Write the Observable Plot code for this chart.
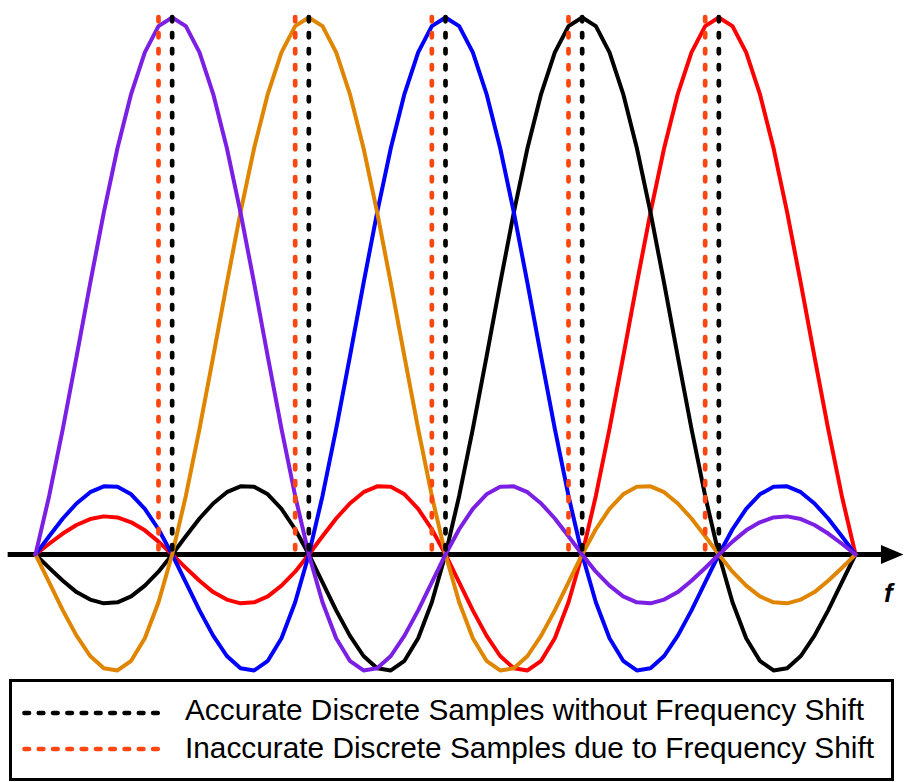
<!DOCTYPE html>
<html>
<head>
<meta charset="utf-8">
<script src="https://cdn.jsdelivr.net/npm/d3@7"></script>
<script src="https://cdn.jsdelivr.net/npm/@observablehq/plot@0.6"></script>
<style>
  html, body { margin: 0; padding: 0; background: #fff; }
  #wrap { position: relative; width: 905px; height: 782px; font-family: "Liberation Sans", Arial, sans-serif; }
  #legend { position: absolute; left: 9px; top: 679px; width: 885px; height: 102px; box-sizing: border-box; border: 3px solid #000; background: #fff; }
  #legend svg { display: block; }
</style>
</head>
<body>
<div id="wrap"><div id="chart"></div><div id="legend"></div></div>
<script>
// normalized frequency grid (subcarrier spacing = 1)
const freq = [0,0.1,0.2,0.3,0.4,0.5,0.6,0.7,0.8,0.9,
  1,1.1,1.2,1.3,1.4,1.5,1.6,1.7,1.8,1.9,
  2,2.1,2.2,2.3,2.4,2.5,2.6,2.7,2.8,2.9,
  3,3.1,3.2,3.3,3.4,3.5,3.6,3.7,3.8,3.9,
  4,4.1,4.2,4.3,4.4,4.5,4.6,4.7,4.8,4.9,
  5,5.1,5.2,5.3,5.4,5.5,5.6,5.7,5.8,5.9,6];

const subcarrier1 = [0,0.109,0.234,0.368,0.505,0.637,0.757,0.858,0.935,0.984,
  1,0.984,0.935,0.858,0.757,0.637,0.505,0.368,0.234,0.109,
  0,-0.089,-0.156,-0.198,-0.216,-0.212,-0.189,-0.151,-0.104,-0.052,
  0,0.047,0.085,0.112,0.126,0.127,0.116,0.095,0.067,0.034,
  0,-0.032,-0.058,-0.078,-0.089,-0.091,-0.084,-0.070,-0.049,-0.025,
  0,0.024,0.045,0.060,0.069,0.071,0.066,0.055,0.039,0.020,0];

const subcarrier2 = [0,-0.052,-0.104,-0.151,-0.189,-0.212,-0.216,-0.198,-0.156,-0.089,
  0,0.109,0.234,0.368,0.505,0.637,0.757,0.858,0.935,0.984,
  1,0.984,0.935,0.858,0.757,0.637,0.505,0.368,0.234,0.109,
  0,-0.089,-0.156,-0.198,-0.216,-0.212,-0.189,-0.151,-0.104,-0.052,
  0,0.047,0.085,0.112,0.126,0.127,0.116,0.095,0.067,0.034,
  0,-0.032,-0.058,-0.078,-0.089,-0.091,-0.084,-0.070,-0.049,-0.025,0];

const subcarrier3 = [0,0.034,0.067,0.095,0.116,0.127,0.126,0.112,0.085,0.047,
  0,-0.052,-0.104,-0.151,-0.189,-0.212,-0.216,-0.198,-0.156,-0.089,
  0,0.109,0.234,0.368,0.505,0.637,0.757,0.858,0.935,0.984,
  1,0.984,0.935,0.858,0.757,0.637,0.505,0.368,0.234,0.109,
  0,-0.089,-0.156,-0.198,-0.216,-0.212,-0.189,-0.151,-0.104,-0.052,
  0,0.047,0.085,0.112,0.126,0.127,0.116,0.095,0.067,0.034,0];

const subcarrier4 = [0,-0.025,-0.049,-0.070,-0.084,-0.091,-0.089,-0.078,-0.058,-0.032,
  0,0.034,0.067,0.095,0.116,0.127,0.126,0.112,0.085,0.047,
  0,-0.052,-0.104,-0.151,-0.189,-0.212,-0.216,-0.198,-0.156,-0.089,
  0,0.109,0.234,0.368,0.505,0.637,0.757,0.858,0.935,0.984,
  1,0.984,0.935,0.858,0.757,0.637,0.505,0.368,0.234,0.109,
  0,-0.089,-0.156,-0.198,-0.216,-0.212,-0.189,-0.151,-0.104,-0.052,0];

const subcarrier5 = [0,0.020,0.039,0.055,0.066,0.071,0.069,0.060,0.045,0.024,
  0,-0.025,-0.049,-0.070,-0.084,-0.091,-0.089,-0.078,-0.058,-0.032,
  0,0.034,0.067,0.095,0.116,0.127,0.126,0.112,0.085,0.047,
  0,-0.052,-0.104,-0.151,-0.189,-0.212,-0.216,-0.198,-0.156,-0.089,
  0,0.109,0.234,0.368,0.505,0.637,0.757,0.858,0.935,0.984,
  1,0.984,0.935,0.858,0.757,0.637,0.505,0.368,0.234,0.109,0];

const subcarrierNames = ["s1", "s2", "s3", "s4", "s5"];
const subcarrierColors = ["#7c1fe4", "#df8500", "#0000ff", "#000000", "#ff0000"];

const accurateSamples = [1, 2, 3, 4, 5];
const shiftedSamples = [0.9, 1.9, 2.9, 3.9, 4.9];

const legendLabels = [
  "Accurate Discrete Samples without Frequency Shift",
  "Inaccurate Discrete Samples due to Frequency Shift"
];
const legendColors = ["#000000", "#ff4510"];
const axisLabel = "f";

// build a long table; drawing order: red, black, blue, orange, purple (purple on top)
const series = [subcarrier1, subcarrier2, subcarrier3, subcarrier4, subcarrier5];
const drawOrder = [4, 3, 2, 1, 0];
const rows = [];
for (const k of drawOrder) {
  series[k].forEach((v, i) => rows.push({f: freq[i], amp: v, sub: subcarrierNames[k]}));
}

const dash = {strokeWidth: 4.7, strokeDasharray: "4.3,11.7", strokeLinecap: "round"};

const chart = Plot.plot({
  width: 905,
  height: 679,
  margin: 0,
  x: {domain: [0, 6], range: [35, 855], axis: null},
  y: {domain: [0, 1], range: [554, 17], axis: null},
  color: {domain: subcarrierNames, range: subcarrierColors},
  style: {background: "white", overflow: "visible"},
  marks: [
    Plot.ruleY([0], {x1: -0.2, x2: 6.19, stroke: "black", strokeWidth: 5}),
    Plot.line(rows, {x: "f", y: "amp", z: "sub", stroke: "sub", strokeWidth: 4, strokeLinejoin: "round", curve: "linear"}),
    Plot.ruleX(shiftedSamples, {x: d => d, y1: 1, y2: 0, stroke: legendColors[1], ...dash}),
    Plot.ruleX(accurateSamples, {x: d => d, y1: 1, y2: 0, stroke: legendColors[0], ...dash}),
    Plot.text([axisLabel], {x: 6.241, y: 0, dy: 39, text: d => d, fontSize: 26, fontWeight: "bold", fontStyle: "italic", fill: "black", textAnchor: "middle", lineAnchor: "middle", fontFamily: "Liberation Sans, Arial, sans-serif"})
  ]
});

// filled arrowhead on the frequency axis (attached to the horizontal rule)
const svgSel = d3.select(chart);
const defs = svgSel.insert("defs", ":first-child");
defs.append("marker")
  .attr("id", "faxis-head")
  .attr("markerUnits", "userSpaceOnUse")
  .attr("markerWidth", 23).attr("markerHeight", 20)
  .attr("viewBox", "0 0 23 20")
  .attr("refX", 0).attr("refY", 10)
  .attr("orient", "auto")
  .attr("overflow", "visible")
  .append("path").attr("d", "M0,0.5 L22.5,10 L0,19.5 Z").attr("fill", "black");
svgSel.selectAll("line").filter(function () {
  const y1 = this.getAttribute("y1"), y2 = this.getAttribute("y2");
  const x1 = this.getAttribute("x1"), x2 = this.getAttribute("x2");
  return y1 !== null && y1 === y2 && x1 !== x2;
}).attr("marker-end", "url(#faxis-head)");

document.getElementById("chart").appendChild(chart);

// legend
const lg = d3.select("#legend").append("svg").attr("width", 879).attr("height", 96);
const rowsY = [31, 67];
const baseY = [38, 76];
legendLabels.forEach((label, i) => {
  lg.append("line")
    .attr("x1", 12.5).attr("x2", 148).attr("y1", rowsY[i]).attr("y2", rowsY[i])
    .attr("stroke", legendColors[i]).attr("stroke-width", 4.7)
    .attr("stroke-dasharray", "4.5,9.8").attr("stroke-linecap", "round");
  lg.append("text")
    .attr("x", 173).attr("y", baseY[i])
    .attr("font-family", "Liberation Sans, Arial, sans-serif")
    .attr("font-size", 29.8)
    .attr("fill", "black")
    .text(label);
});
</script>
</body>
</html>
